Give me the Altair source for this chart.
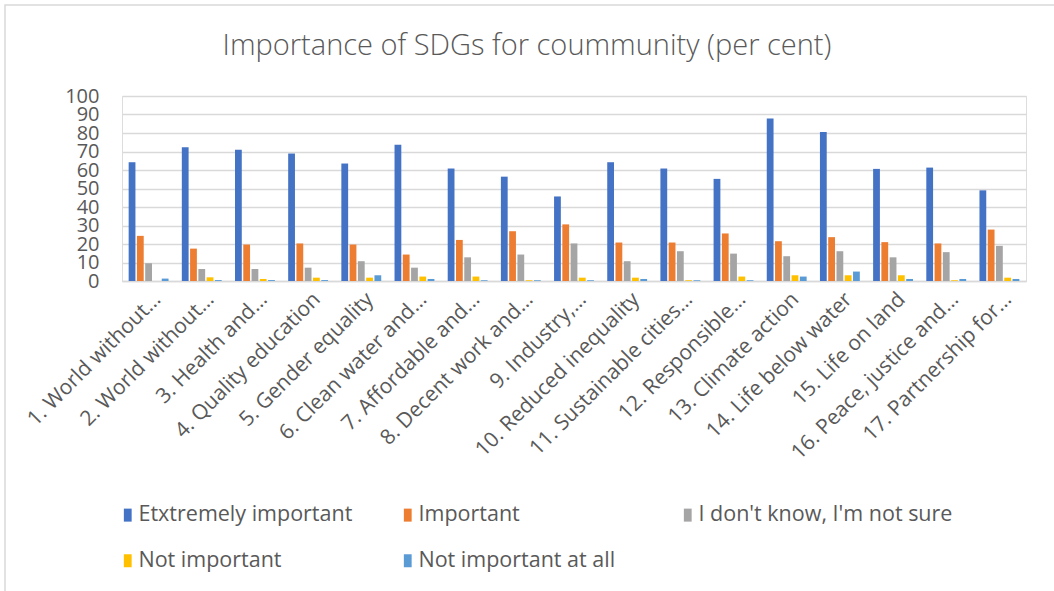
import altair as alt
import pandas as pd

# SDG labels as shown on the category axis
goals = [
    "1. World without…", "2. World without…", "3. Health and…", "4. Quality education",
    "5. Gender equality", "6. Clean water and…", "7. Affordable and…", "8. Decent work and…",
    "9. Industry,…", "10. Reduced inequality", "11. Sustainable cities…", "12. Responsible…",
    "13. Climate action", "14. Life below water", "15. Life on land", "16. Peace, justice and…",
    "17. Partnership for…",
]

answers = [
    "Etxtremely important", "Important", "I don't know, I'm not sure",
    "Not important", "Not important at all",
]

# Share of respondents (per cent) per answer, one value per goal
extremely_important = [64.2, 72.3, 70.9, 68.9, 63.5, 73.6, 60.8, 56.4, 45.7, 64.2, 60.8, 55.2, 87.9, 80.5, 60.6, 61.3, 49.0]
important = [24.4, 17.5, 19.7, 20.3, 19.7, 14.3, 22.2, 26.9, 30.6, 20.8, 20.8, 25.7, 21.5, 23.7, 21.0, 20.3, 27.8]
not_sure = [9.6, 6.5, 6.5, 7.2, 10.7, 7.2, 12.8, 14.3, 20.3, 10.7, 16.1, 14.8, 13.4, 16.1, 12.8, 15.6, 19.0]
not_important = [0.0, 2.0, 1.1, 1.8, 1.8, 2.4, 2.4, 0.4, 1.8, 1.8, 0.4, 2.4, 3.1, 3.1, 3.1, 0.4, 1.8]
not_important_at_all = [1.3, 0.5, 0.5, 0.5, 3.1, 1.1, 0.4, 0.4, 0.4, 1.1, 0.4, 0.4, 2.4, 5.1, 1.1, 1.1, 1.1]

palette = ["#4472C4", "#ED7D31", "#A5A5A5", "#FFC000", "#5B9BD5"]

series = [extremely_important, important, not_sure, not_important, not_important_at_all]
rows = []
for answer, values in zip(answers, series):
    for goal, v in zip(goals, values):
        rows.append({"goal": goal, "answer": answer, "pct": v})
df = pd.DataFrame(rows)

FONT = "Open Sans"
TEXT = "#595959"

bars = (
    alt.Chart(df)
    .mark_bar()
    .encode(
        x=alt.X(
            "goal:N",
            sort=goals,
            scale=alt.Scale(paddingInner=0.25, paddingOuter=0.125),
            axis=alt.Axis(
                title=None,
                labelAngle=315,
                labelAlign="right",
                labelBaseline="middle",
                labelFontSize=21,
                labelColor=TEXT,
                labelFont=FONT,
                labelPadding=15,
                labelOffset=9,
                labelLimit=400,
                labelOverlap=False,
                ticks=False,
                domainColor="#D9D9D9",
                domainWidth=1.5,
                grid=False,
            ),
        ),
        xOffset=alt.XOffset("answer:N", sort=answers, scale=alt.Scale(paddingInner=0.18)),
        y=alt.Y(
            "pct:Q",
            scale=alt.Scale(domain=[0, 100], nice=False),
            axis=alt.Axis(
                title=None,
                values=list(range(0, 101, 10)),
                labelFontSize=20,
                labelColor=TEXT,
                labelFont=FONT,
                labelPadding=23,
                labelOverlap=False,
                ticks=False,
                domain=False,
                gridColor="#D9D9D9",
                gridWidth=1.5,
            ),
        ),
        color=alt.Color(
            "answer:N",
            sort=answers,
            scale=alt.Scale(domain=answers, range=palette),
            legend=alt.Legend(
                title=None,
                orient="none",
                legendX=-5,
                legendY=408,
                direction="horizontal",
                columns=3,
                gridAlign="all",
                columnPadding=4,
                rowPadding=23,
                symbolType="M-0.6,-1H0.6V1H-0.6Z",
                symbolSize=169,
                symbolStrokeWidth=0,
                symbolOpacity=1,
                labelFontSize=21.5,
                labelFont=FONT,
                labelColor=TEXT,
                labelOffset=0,
                labelLimit=400,
            ),
        ),
    )
)

# Thin frame around the whole chart
frame = (
    alt.Chart(alt.Data(values=[{}]))
    .mark_rect(fill=None, stroke="#D9D9D9", strokeWidth=1.5)
    .encode(x=alt.value(-117), x2=alt.value(960), y=alt.value(-91), y2=alt.value(520))
)

chart = (
    alt.layer(frame, bars)
    .properties(
        width=904,
        height=185,
        padding={"left": 122, "top": 96, "right": 28, "bottom": 310},
        autosize=alt.AutoSizeParams(type="none"),
        title=alt.TitleParams(
            "Importance of SDGs for coummunity (per cent)",
            fontSize=29,
            font=FONT,
            fontWeight=300,
            color=TEXT,
            anchor="middle",
            frame="group",
            dx=-47,
            offset=-57,
        ),
    )
    .configure_view(stroke=None)
    .configure(background="white")
)

chart.save("out.html", embed_options={"renderer": "svg", "actions": False})
